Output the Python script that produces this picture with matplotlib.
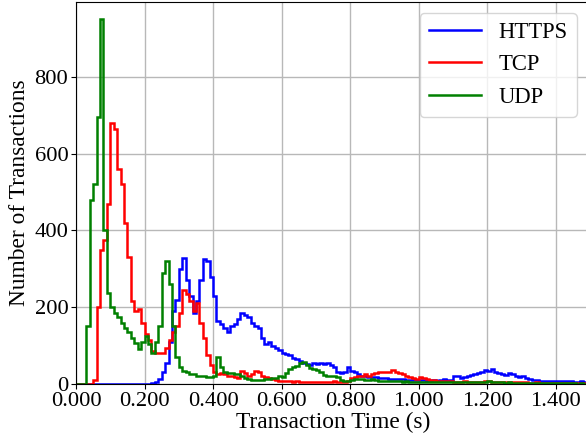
import numpy as np
import matplotlib
matplotlib.use("Agg")
import matplotlib.pyplot as plt
from matplotlib.ticker import FormatStrFormatter

plt.rcParams['font.family'] = ['Liberation Serif', 'DejaVu Serif']

bin_width = 0.01
x_max = 1.5
series_names = ["HTTPS", "TCP", "UDP"]
series_colors = ["blue", "red", "green"]

https = [
    0, 0, 0, 0, 0, 0, 0, 0, 0, 0,
    0, 0, 0, 0, 0, 0, 0, 0, 0, 0,
    0, 0, 2, 5, 12, 30, 55, 110, 190, 220,
    300, 328, 270, 230, 185, 215, 270, 325, 320, 280,
    230, 165, 155, 145, 135, 150, 155, 170, 185, 180,
    175, 160, 150, 145, 120, 105, 110, 100, 95, 88,
    80, 78, 75, 68, 65, 60, 55, 52, 50, 55,
    52, 55, 52, 55, 50, 45, 30, 28, 30, 43,
    35, 30, 25, 22, 20, 18, 18, 17, 16, 15,
    15, 14, 13, 13, 12, 12, 11, 11, 10, 10,
    10, 10, 9, 9, 10, 9, 10, 12, 11, 10,
    22, 20, 16, 18, 22, 24, 26, 28, 32, 36,
    34, 38, 30, 28, 25, 23, 28, 25, 20, 18,
    20, 16, 12, 10, 10, 9, 9, 8, 8, 8,
    9, 8, 7, 7, 8, 6, 6, 7, 5, 6,
]

tcp = [
    0, 0, 0, 0, 0, 10, 200, 350, 375, 470,
    680, 665, 560, 520, 420, 330, 215, 190, 195, 160,
    130, 115, 85, 80, 80, 80, 95, 115, 135, 150,
    185, 245, 235, 215, 190, 210, 160, 120, 75, 50,
    30, 25, 28, 25, 22, 22, 18, 15, 35, 28,
    22, 25, 35, 30, 22, 18, 15, 12, 10, 8,
    8, 7, 8, 6, 7, 6, 5, 6, 5, 5,
    5, 6, 5, 5, 6, 7, 6, 5, 6, 8,
    15, 18, 20, 22, 25, 22, 26, 28, 32, 30,
    32, 30, 36, 30, 28, 25, 20, 18, 15, 12,
    18, 15, 12, 10, 10, 8, 8, 8, 7, 7,
    6, 6, 6, 7, 6, 5, 6, 5, 5, 7,
    8, 6, 5, 5, 5, 4, 4, 5, 4, 4,
    4, 4, 3, 3, 4, 3, 3, 3, 3, 3,
    3, 3, 2, 3, 2, 2, 3, 2, 2, 2,
]

udp = [
    0, 0, 0, 150, 480, 520, 695, 950, 400, 237,
    200, 185, 175, 160, 145, 135, 120, 107, 90, 110,
    125, 105, 80, 110, 150, 290, 320, 260, 150, 70,
    45, 35, 30, 27, 25, 22, 20, 20, 17, 17,
    20, 70, 45, 32, 29, 28, 27, 25, 22, 15,
    12, 10, 10, 10, 10, 12, 12, 15, 15, 20,
    18, 28, 38, 45, 48, 55, 57, 50, 42, 40,
    37, 30, 23, 22, 20, 20, 18, 10, 8, 8,
    10, 12, 14, 12, 10, 10, 12, 10, 9, 8,
    8, 8, 7, 8, 7, 6, 7, 6, 6, 6,
    6, 6, 5, 6, 5, 5, 5, 5, 5, 4,
    5, 5, 4, 5, 4, 4, 4, 4, 5, 6,
    7, 5, 4, 4, 4, 3, 4, 3, 3, 3,
    3, 3, 3, 3, 2, 3, 2, 2, 2, 2,
    2, 2, 2, 2, 2, 2, 1, 2, 1, 1,
]

edges = np.arange(len(https) + 1) * bin_width

fig = plt.figure(figsize=(5.86, 4.42), dpi=100)
ax = fig.add_axes([76 / 586, 58 / 442, 514 / 586, 382 / 442])

for name, color, vals in zip(series_names, series_colors, [https, tcp, udp]):
    ax.stairs(vals, edges, color=color, linewidth=1.8, label=name, baseline=None)

ax.set_xlim(0, x_max)
ax.set_ylim(0, 995)
ax.set_xticks(np.arange(0, 1.41, 0.2))
ax.set_yticks([0, 200, 400, 600, 800])
ax.xaxis.set_major_formatter(FormatStrFormatter('%.3f'))
ax.grid(True, color='#b8b8b8', linewidth=1.0)
ax.set_axisbelow(True)
ax.tick_params(labelsize=16.2, pad=2)
ax.set_xlabel("Transaction Time (s)", fontsize=16.8, labelpad=1)
ax.set_ylabel("Number of Transactions", fontsize=16.8, labelpad=3)

ax.legend(loc='upper right', bbox_to_anchor=(577 / 586, 1 - 13 / 442),
          bbox_transform=fig.transFigure, fontsize=16.3, borderaxespad=0,
          handlelength=2.3)

fig.savefig("out.png", dpi=100)
